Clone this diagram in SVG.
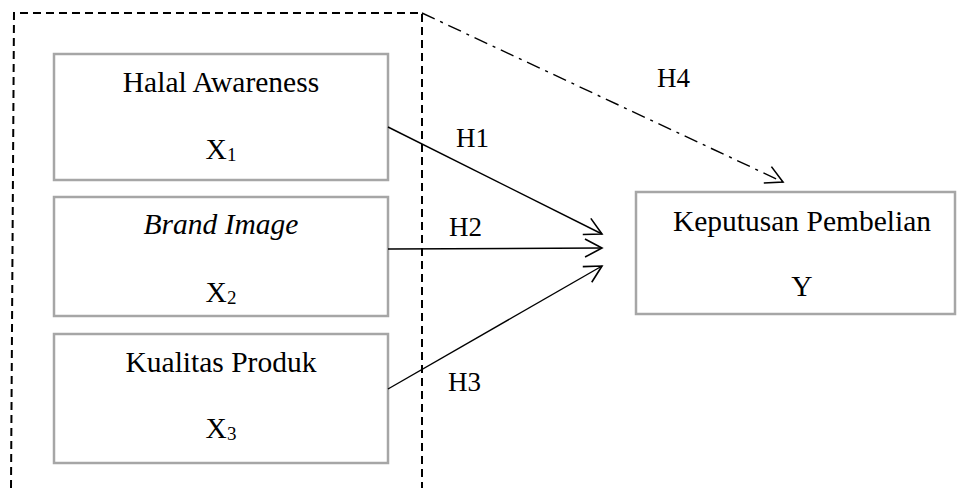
<svg xmlns="http://www.w3.org/2000/svg" width="957" height="488" viewBox="0 0 957 488">
<style>
  .box { fill: #ffffff; stroke: #a6a6a6; stroke-width: 2.5; }
  .t { font-family: "Liberation Serif", "Times New Roman", serif; font-size: 29.5px; fill: #000; }
  .lbl { font-family: "Liberation Serif", "Times New Roman", serif; font-size: 27px; fill: #000; }
  .sub { font-size: 19px; }
  .conn { stroke: #000; stroke-width: 1.4; fill: none; }
</style>
<defs>
  <marker id="arr" markerUnits="userSpaceOnUse" markerWidth="24" markerHeight="24" viewBox="-20 -12 24 24" refX="0" refY="0" orient="auto">
    <path d="M-17,-9 L0,0 L-17,9" fill="none" stroke="#000" stroke-width="1.6"/>
  </marker>
</defs>
<rect width="957" height="488" fill="#ffffff"/>
<g id="group-frame">
  <path d="M11,488 L14,13 L422,13 L422,488" fill="none" stroke="#000" stroke-width="2" stroke-dasharray="8,5"/>
</g>
<g id="node-x1">
  <rect class="box" x="54" y="54" width="334" height="126"/>
  <text class="t" x="221" y="92" text-anchor="middle">Halal Awareness</text>
  <text class="t" x="221" y="159" text-anchor="middle">X<tspan class="sub" dy="2">1</tspan></text>
</g>
<g id="node-x2">
  <rect class="box" x="54" y="197" width="334" height="119"/>
  <text class="t" x="221" y="234" text-anchor="middle" font-style="italic">Brand Image</text>
  <text class="t" x="221" y="302" text-anchor="middle">X<tspan class="sub" dy="2">2</tspan></text>
</g>
<g id="node-x3">
  <rect class="box" x="54" y="334" width="334" height="129"/>
  <text class="t" x="221" y="372" text-anchor="middle">Kualitas Produk</text>
  <text class="t" x="221" y="438" text-anchor="middle">X<tspan class="sub" dy="2">3</tspan></text>
</g>
<g id="node-y">
  <rect class="box" x="636" y="192" width="319" height="122"/>
  <text class="t" x="802" y="231" text-anchor="middle">Keputusan Pembelian</text>
  <text class="t" x="802" y="296" text-anchor="middle">Y</text>
</g>
<g id="connectors">
  <line class="conn" x1="388" y1="127" x2="602" y2="234" marker-end="url(#arr)"/>
  <line class="conn" x1="388" y1="249" x2="602" y2="248" marker-end="url(#arr)"/>
  <line class="conn" x1="388" y1="389" x2="602" y2="266" marker-end="url(#arr)"/>
  <line class="conn" x1="422" y1="13" x2="783" y2="182" stroke-width="1.6" stroke-dasharray="14,6,3,6" marker-end="url(#arr)"/>
  <text class="lbl" x="456" y="147">H1</text>
  <text class="lbl" x="449" y="236">H2</text>
  <text class="lbl" x="448" y="391">H3</text>
  <text class="lbl" x="657" y="87">H4</text>
</g>
</svg>
